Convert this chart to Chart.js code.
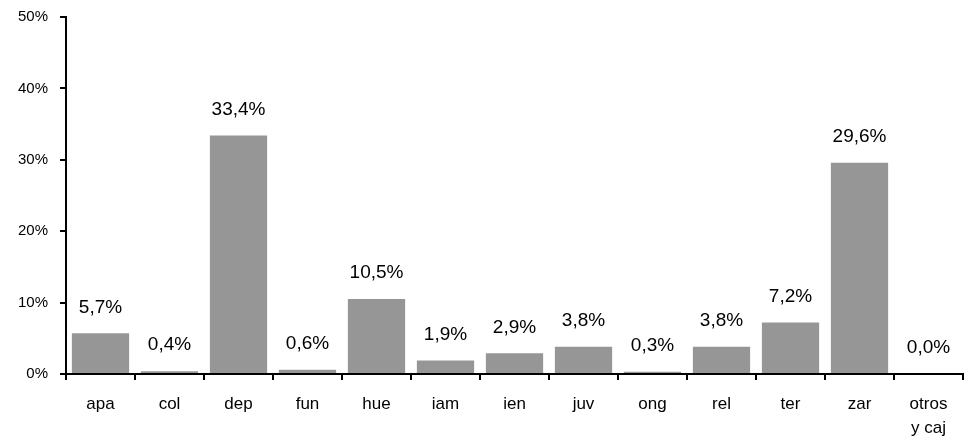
<!DOCTYPE html>
<html>
<head>
<meta charset="utf-8">
<script src="https://cdn.jsdelivr.net/npm/chart.js@4/dist/chart.umd.min.js"></script>
<style>
  html, body { margin: 0; padding: 0; background: #fff; }
  #wrap { width: 965px; height: 444px; position: relative; }
</style>
</head>
<body>
<div id="wrap"><canvas id="chart"></canvas></div>
<script>
// datos del grafico
const categorias = ['apa', 'col', 'dep', 'fun', 'hue', 'iam', 'ien', 'juv', 'ong', 'rel', 'ter', 'zar', ['otros', 'y caj']];
const valores = [5.7, 0.4, 33.4, 0.6, 10.5, 1.9, 2.9, 3.8, 0.3, 3.8, 7.2, 29.6, 0.0];
const ticksY = [0, 10, 20, 30, 40, 50];

function fmt(v) {
    return v.toFixed(1).replace('.', ',') + '%';
}

// etiquetas encima de cada barra
const etiquetas = {
    id: 'etiquetas',
    afterDatasetsDraw(chart) {
        const ctx = chart.ctx;
        const meta = chart.getDatasetMeta(0);
        ctx.save();
        ctx.font = '19px "Liberation Sans", Arial, sans-serif';
        ctx.fillStyle = '#000';
        ctx.textAlign = 'center';
        ctx.textBaseline = 'middle';
        meta.data.forEach((bar, i) => {
            ctx.fillText(fmt(valores[i]), bar.x, bar.y - 26);
        });
        ctx.restore();
    }
};

const ctx = document.getElementById('chart').getContext('2d');
const chart = new Chart(ctx, {
    type: 'bar',
    data: {
        labels: categorias,
        datasets: [{
            data: valores,
            backgroundColor: '#969696',
            categoryPercentage: 0.83,
            barPercentage: 1.0
        }]
    },
    options: {
        responsive: true,
        maintainAspectRatio: false,
        animation: false,
        layout: { padding: { top: 17, right: 2, left: 0, bottom: 0 } },
        plugins: {
            legend: { display: false },
            tooltip: { enabled: false }
        },
        scales: {
            x: {
                offset: true,
                grid: {
                    offset: true,
                    drawOnChartArea: false,
                    color: '#000',
                    lineWidth: 2,
                    tickLength: 6
                },
                border: { color: '#000', width: 2 },
                ticks: {
                    color: '#000',
                    padding: 13,
                    maxRotation: 0,
                    autoSkip: false,
                    font: { family: '"Liberation Sans", Arial, sans-serif', size: 17, lineHeight: 1.38 }
                },
                afterFit(scale) { scale.height = 70; }
            },
            y: {
                min: 0,
                max: 50,
                afterBuildTicks(scale) {
                    scale.ticks = ticksY.map(v => ({ value: v }));
                },
                grid: {
                    drawOnChartArea: false,
                    color: '#000',
                    lineWidth: 2,
                    tickLength: 6
                },
                border: { color: '#000', width: 2 },
                ticks: {
                    color: '#000',
                    padding: 12,
                    font: { family: '"Liberation Sans", Arial, sans-serif', size: 15, lineHeight: 1 },
                    callback: v => v + '%'
                },
                afterFit(scale) {
                    scale.width = 66;
                    scale.paddingTop = 0;
                }
            }
        }
    },
    plugins: [etiquetas]
});
</script>
</body>
</html>
